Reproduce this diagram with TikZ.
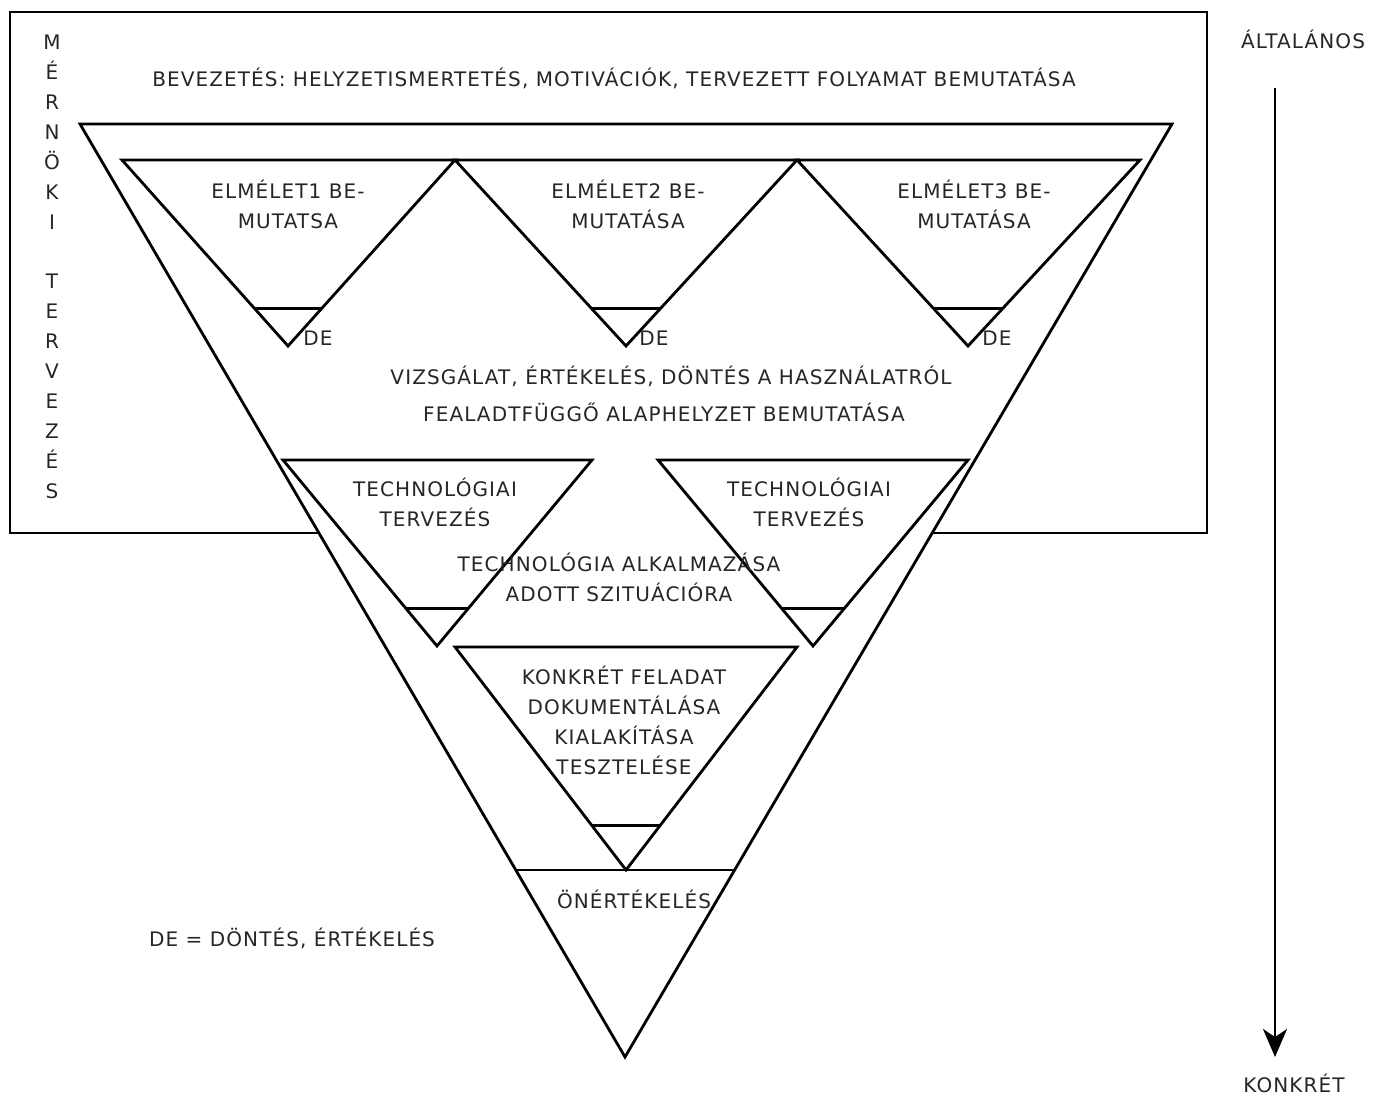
\documentclass[tikz,border=0pt]{standalone}
\usepackage{fontspec}
\setmainfont[LetterSpace=5.5]{DejaVu Sans}
\usetikzlibrary{arrows.meta,calc}
\begin{document}
\begin{tikzpicture}[x=0.5pt,y=-0.5pt,
  shape line/.style={draw=black,line width=1.4pt,line join=miter},
  lbl/.style={inner sep=0pt,anchor=base,font=\fontsize{10}{15}\selectfont,text=black!85},
  two/.style={lbl,align=center}]
\useasboundingbox (0,0) rectangle (1380,1095);
% frame
\draw[shape line] (10,12) rectangle (1207,533);
% big triangle
\coordinate (B1) at (80,124); \coordinate (B2) at (1172,124); \coordinate (B3) at (625,1057);
\filldraw[shape line,fill=white] (B1) -- (B2) -- (B3) -- cycle;
% top triangles
\coordinate (a1) at (122,160); \coordinate (a2) at (455,160); \coordinate (a3) at (288,346);
\coordinate (b1) at (455,160); \coordinate (b2) at (797,160); \coordinate (b3) at (626,346);
\coordinate (c1) at (797,160); \coordinate (c2) at (1140,160); \coordinate (c3) at (968,346);
\foreach \t in {a,b,c}{
  \draw[shape line] (\t1) -- (\t2) -- (\t3) -- cycle;
  \draw[shape line] ($(\t1)!0.8!(\t3)$) -- ($(\t2)!0.8!(\t3)$);
}
% middle triangles
\coordinate (d1) at (283,460); \coordinate (d2) at (592,460); \coordinate (d3) at (437,646);
\coordinate (e1) at (658,460); \coordinate (e2) at (968,460); \coordinate (e3) at (813,646);
% bottom triangle
\coordinate (f1) at (455,647); \coordinate (f2) at (797,647); \coordinate (f3) at (626,870);
\foreach \t in {d,e,f}{
  \draw[shape line] (\t1) -- (\t2) -- (\t3) -- cycle;
  \draw[shape line] ($(\t1)!0.8!(\t3)$) -- ($(\t2)!0.8!(\t3)$);
}
% self-evaluation band
\draw[shape line] ($(B1)!0.7996!(B3)$) -- ($(B2)!0.7996!(B3)$);
% texts
\node[lbl] (intro) at (614,87) {BEVEZETÉS: HELYZETISMERTETÉS, MOTIVÁCIÓK, TERVEZETT FOLYAMAT BEMUTATÁSA};
\node[two] (t1) at (288,229) {ELMÉLET1 BE-\\MUTATSA};
\node[two] (t2) at (628,229) {ELMÉLET2 BE-\\MUTATÁSA};
\node[two] (t3) at (974,229) {ELMÉLET3 BE-\\MUTATÁSA};
\node[lbl,anchor=base west] (de1) at (303,346) {DE};
\node[lbl,anchor=base west] (de2) at (639,346) {DE};
\node[lbl,anchor=base west] (de3) at (982,346) {DE};
\node[lbl] (viz) at (671,385) {VIZSGÁLAT, ÉRTÉKELÉS, DÖNTÉS A HASZNÁLATRÓL};
\node[lbl] (alap) at (664,422) {FEALADTFÜGGŐ ALAPHELYZET BEMUTATÁSA};
\node[two] (tt1) at (435,527) {TECHNOLÓGIAI\\TERVEZÉS};
\node[two] (tt2) at (809,527) {TECHNOLÓGIAI\\TERVEZÉS};
\node[two] (alk) at (619,602) {TECHNOLÓGIA ALKALMAZÁSA\\ADOTT SZITUÁCIÓRA};
\node[two] (konk) at (624,774) {KONKRÉT FELADAT\\DOKUMENTÁLÁSA\\KIALAKÍTÁSA\\TESZTELÉSE};
\node[lbl] (oner) at (634,908) {ÖNÉRTÉKELÉS};
\node[lbl] (legend) at (292,946) {DE = DÖNTÉS, ÉRTÉKELÉS};
% vertical label
\foreach \ch [count=\i from 0] in {M,É,R,N,Ö,K,I,{},T,E,R,V,E,Z,É,S}{
  \node[lbl] at (52,{50+\i*29.87}) {\ch};
}
% scale arrow
\node[lbl] (alt) at (1303,49) {ÁLTALÁNOS};
\node[lbl] (konkret) at (1294,1092) {KONKRÉT};
\coordinate (arS) at (1275,88); \coordinate (arE) at (1275,1057);
\draw[line width=1.4pt,-{Stealth[length=14pt,width=12pt,inset=4pt]}] (arS) -- (arE);
\end{tikzpicture}
\end{document}
